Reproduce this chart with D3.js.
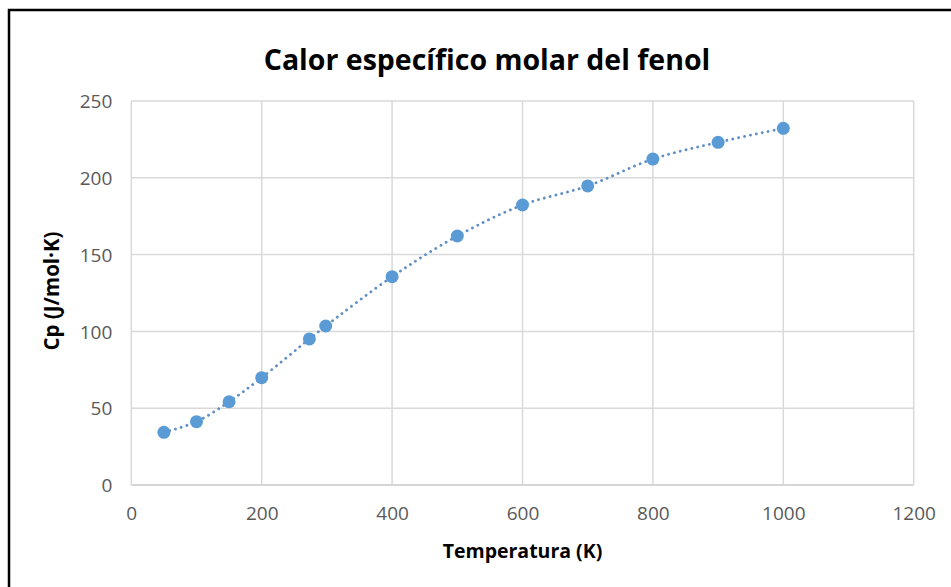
<!DOCTYPE html>
<html>
<head>
<meta charset="utf-8">
<script src="https://cdn.jsdelivr.net/npm/d3@7"></script>
<style>
  html, body { margin: 0; padding: 0; background: #fff; }
  svg { display: block; }
</style>
</head>
<body>
<script>
// Molar heat capacity of phenol vs temperature
const temperatures = [50, 100, 150, 200, 273.15, 298.15, 400, 500, 600, 700, 800, 900, 1000];
const cpValues = [34.3, 41.2, 54.2, 69.9, 95.1, 103.5, 135.6, 162.1, 182.3, 194.7, 212.2, 223.1, 232.2];
const xTicks = [0, 200, 400, 600, 800, 1000, 1200];
const yTicks = [0, 50, 100, 150, 200, 250];

const chartTitle = "Calor específico molar del fenol";
const xTitle = "Temperatura (K)";
const yTitle = "Cp (J/mol·K)";

const W = 951, H = 587;
const plot = { left: 131.3, right: 913.7, top: 101, bottom: 485 };
const FONT = "'Open Sans', 'Noto Sans', sans-serif";
const BLUE = "#5B9BD5";

const svg = d3.select("body").append("svg")
  .attr("width", W).attr("height", H);

svg.append("rect").attr("width", W).attr("height", H).attr("fill", "#fff");

// chart frame (left and top edges visible)
svg.append("path")
  .attr("d", `M9,${H + 5} L9,10 L${W + 5},10`)
  .attr("fill", "none").attr("stroke", "#000").attr("stroke-width", 2.5);

const x = d3.scaleLinear().domain([0, 1200]).range([plot.left, plot.right]);
const y = d3.scaleLinear().domain([0, 250]).range([plot.bottom, plot.top]);

// gridlines
const grid = svg.append("g");
grid.selectAll("line.h").data(yTicks).join("line")
  .attr("x1", plot.left).attr("x2", plot.right)
  .attr("y1", d => y(d)).attr("y2", d => y(d))
  .attr("stroke", d => d === 0 ? "#c8c8c8" : "#d9d9d9").attr("stroke-width", 1.5);
grid.selectAll("line.v").data(xTicks).join("line")
  .attr("y1", plot.top).attr("y2", plot.bottom)
  .attr("x1", d => x(d)).attr("x2", d => x(d))
  .attr("stroke", "#d9d9d9").attr("stroke-width", 1.5);

// axes tick labels
const xAxis = d3.axisBottom(x).tickValues(xTicks).tickFormat(d3.format("d")).tickSize(0).tickPadding(0);
const gx = svg.append("g").attr("transform", `translate(0,${plot.bottom})`).call(xAxis);
gx.select(".domain").remove();
gx.selectAll("text")
  .attr("y", 35).attr("dy", null)
  .attr("font-family", FONT).attr("font-size", 19).attr("fill", "#595959");

const yAxis = d3.axisLeft(y).tickValues(yTicks).tickFormat(d3.format("d")).tickSize(0).tickPadding(0);
const gy = svg.append("g").attr("transform", `translate(${plot.left},0)`).call(yAxis);
gy.select(".domain").remove();
gy.selectAll("text")
  .attr("x", -19).attr("dy", "0.35em")
  .attr("font-family", FONT).attr("font-size", 19).attr("fill", "#595959");

// series: smoothed dotted line + markers
const pts = temperatures.map((t, i) => [t, cpValues[i]]);
const line = d3.line()
  .x(d => x(d[0])).y(d => y(d[1]))
  .curve(d3.curveCatmullRom.alpha(0.5));

svg.append("path")
  .attr("d", line(pts))
  .attr("fill", "none")
  .attr("stroke", "#5f8fc4")
  .attr("stroke-width", 2.8)
  .attr("stroke-linecap", "round")
  .attr("stroke-dasharray", "0.1 5.9");

svg.append("g").selectAll("circle").data(pts).join("circle")
  .attr("cx", d => x(d[0])).attr("cy", d => y(d[1]))
  .attr("r", 6.5).attr("fill", BLUE);

// titles
svg.append("text")
  .attr("x", 487).attr("y", 70)
  .attr("text-anchor", "middle")
  .attr("font-family", FONT).attr("font-weight", "bold")
  .attr("font-size", 28.5).attr("fill", "#000")
  .text(chartTitle);

svg.append("text")
  .attr("x", 522.5).attr("y", 558)
  .attr("text-anchor", "middle")
  .attr("font-family", FONT).attr("font-weight", "bold")
  .attr("font-size", 19.5).attr("fill", "#000")
  .text(xTitle);

svg.append("text")
  .attr("transform", `translate(59,291) rotate(-90)`)
  .attr("text-anchor", "middle")
  .attr("font-family", FONT).attr("font-weight", "bold")
  .attr("font-size", 20.5).attr("fill", "#000")
  .text(yTitle);
</script>
</body>
</html>
